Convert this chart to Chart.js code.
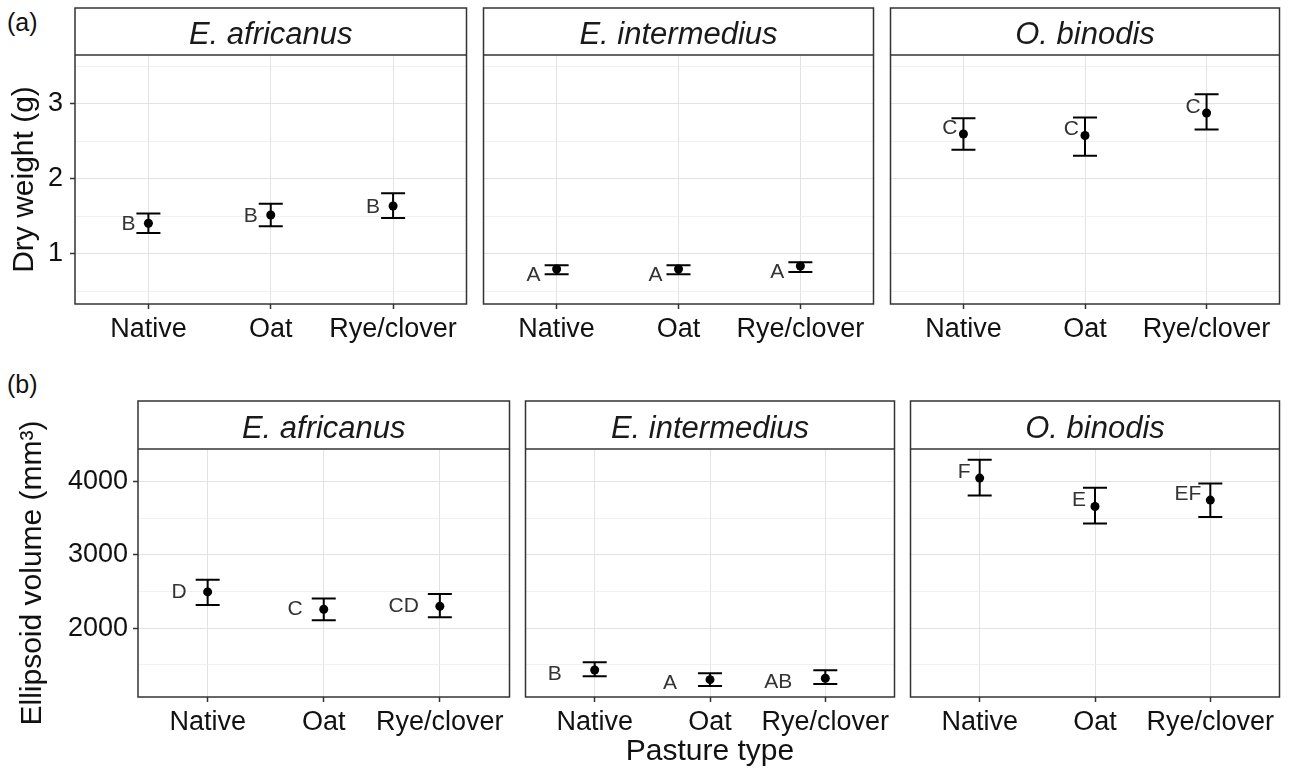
<!DOCTYPE html>
<html>
<head>
<meta charset="utf-8">
<title>Dry weight and ellipsoid volume by pasture type</title>
<script src="https://cdn.jsdelivr.net/npm/chart.js@4.4.1/dist/chart.umd.min.js"></script>
<style>
  html, body { margin: 0; padding: 0; background: #fff; }
  #figure { position: relative; width: 1290px; height: 773px; overflow: hidden; font-family: 'Liberation Sans', Arial, sans-serif; }
  #figure canvas { position: absolute; }
  .panel-tag { position: absolute; font-size: 25px; line-height: 1; color: #111; }
</style>
</head>
<body>
<div id="figure">
  <div class="panel-tag" style="left:7px; top:10px;">(a)</div>
  <div class="panel-tag" style="left:7px; top:372px;">(b)</div>
</div>
<script>
const pastureTypes = ['Native', 'Oat', 'Rye/clover'];
const species = ['E. africanus', 'E. intermedius', 'O. binodis'];

// (a) dry weight (g) - one row per species, one value per pasture type
const dryWeightMean = [[1.41, 1.52, 1.64], [0.80, 0.80, 0.84], [2.60, 2.58, 2.88]];
const dryWeightLow = [[1.28, 1.37, 1.48], [0.73, 0.73, 0.76], [2.39, 2.31, 2.66]];
const dryWeightHigh = [[1.54, 1.67, 1.81], [0.85, 0.85, 0.89], [2.81, 2.82, 3.13]];
const dryWeightLetters = [['B', 'B', 'B'], ['A', 'A', 'A'], ['C', 'C', 'C']];
const dryWeightTicks = [1, 2, 3];

// (b) ellipsoid volume (mm3)
const volumeMean = [[2495, 2259, 2300], [1431, 1299, 1318], [4046, 3659, 3746]];
const volumeLow = [[2318, 2109, 2150], [1345, 1213, 1240], [3809, 3427, 3514]];
const volumeHigh = [[2659, 2404, 2468], [1536, 1386, 1427], [4296, 3914, 3973]];
const volumeLetters = [['D', 'C', 'CD'], ['B', 'A', 'AB'], ['F', 'E', 'EF']];
const volumeTicks = [2000, 3000, 4000];

const FONT = "'Liberation Sans', Arial, sans-serif";
const INK = '#111';
const FRAME = '#333';
const GRID_MAJOR = '#e3e3e3';
const GRID_MINOR = '#ececec';

// page layout of the two rows of facets (pixels)
const rows = [
  {
    mean: dryWeightMean, low: dryWeightLow, high: dryWeightHigh, letters: dryWeightLetters,
    ticks: dryWeightTicks, yMin: 0.333, yMax: 3.653, yTitle: 'Dry weight (g)', titlePad: 7, yTickPad: 7,
    stripTop: 8, plotTop: 55, plotBottom: 304, canvasBottom: 348,
    panels: [[75, 469], [481, 876], [888, 1282]],
    letterShift: [[13, 1], [16, 6], [6, -6]]
  },
  {
    mean: volumeMean, low: volumeLow, high: volumeHigh, letters: volumeLetters,
    ticks: volumeTicks, yMin: 1063, yMax: 4442, yTitle: 'Ellipsoid volume (mm³)', titlePad: 15, yTickPad: 5,
    stripTop: 401, plotTop: 449, plotBottom: 697, canvasBottom: 773, xTitle: 'Pasture type',
    panels: [[138, 512], [523, 897], [908, 1282]],
    letterShift: [[21, 0], [33, 4], [9, -6]]
  }
];

// strip, panel border, error bars and letters
const facetFrame = {
  id: 'facetFrame',
  afterDatasetsDraw(chart, args, opts) {
    const ctx = chart.ctx;
    const x = chart.scales.x;
    const y = chart.scales.y;
    const ds = chart.data.datasets[0];
    ctx.save();
    ctx.strokeStyle = '#000';
    ctx.lineWidth = 2;
    ds.data.forEach((pt, i) => {
      const px = x.getPixelForValue(pt.x);
      const top = y.getPixelForValue(ds.high[i]);
      const bottom = y.getPixelForValue(ds.low[i]);
      ctx.beginPath();
      ctx.moveTo(px, top); ctx.lineTo(px, bottom);
      ctx.moveTo(px - 12, top); ctx.lineTo(px + 12, top);
      ctx.moveTo(px - 12, bottom); ctx.lineTo(px + 12, bottom);
      ctx.stroke();
    });
    ctx.fillStyle = '#333';
    ctx.font = '21px ' + FONT;
    ctx.textAlign = 'right';
    ctx.textBaseline = 'middle';
    ds.data.forEach((pt, i) => {
      const px = x.getPixelForValue(pt.x);
      const py = y.getPixelForValue(pt.y);
      ctx.fillText(ds.letters[i], px - opts.shift[0], py + opts.shift[1]);
    });
    ctx.restore();
  },
  afterDraw(chart, args, opts) {
    const ctx = chart.ctx;
    const area = chart.chartArea;
    const stripTop = opts.stripTop;
    ctx.save();
    ctx.fillStyle = '#fff';
    ctx.fillRect(area.left, stripTop, area.right - area.left, area.top - stripTop);
    ctx.strokeStyle = FRAME;
    ctx.lineWidth = 1.5;
    ctx.strokeRect(area.left, stripTop, area.right - area.left, area.bottom - stripTop);
    ctx.beginPath();
    ctx.moveTo(area.left, area.top);
    ctx.lineTo(area.right, area.top);
    ctx.stroke();
    ctx.fillStyle = '#1a1a1a';
    ctx.font = 'italic 31px ' + FONT;
    ctx.textAlign = 'center';
    ctx.textBaseline = 'middle';
    ctx.fillText(opts.title, (area.left + area.right) / 2, (stripTop + area.top) / 2 + 4);
    ctx.restore();
  }
};

function gridValues(row) {
  const step = row.ticks[1] - row.ticks[0];
  const values = [];
  row.ticks.forEach(t => values.push(t - step / 2, t));
  values.push(row.ticks[row.ticks.length - 1] + step / 2);
  return values.filter(v => v >= row.yMin && v <= row.yMax);
}

function makeFacet(figure, row, col) {
  const [plotLeft, plotRight] = row.panels[col];
  const first = col === 0;
  const canvasLeft = first ? 0 : plotLeft - 2;
  const canvasTop = row.stripTop - 2;
  const width = plotRight + 2 - canvasLeft;
  const height = row.canvasBottom - canvasTop;

  const canvas = document.createElement('canvas');
  canvas.width = width;
  canvas.height = height;
  canvas.style.left = canvasLeft + 'px';
  canvas.style.top = canvasTop + 'px';
  canvas.style.width = width + 'px';
  canvas.style.height = height + 'px';
  figure.appendChild(canvas);

  const isMajor = v => row.ticks.includes(v);

  return new Chart(canvas, {
    type: 'scatter',
    data: {
      datasets: [{
        data: row.mean[col].map((v, i) => ({ x: i + 1, y: v })),
        low: row.low[col],
        high: row.high[col],
        letters: row.letters[col],
        backgroundColor: '#000',
        borderWidth: 0,
        pointRadius: 4.5,
        pointHoverRadius: 4.5
      }]
    },
    options: {
      responsive: false,
      animation: false,
      devicePixelRatio: 1,
      events: [],
      layout: { padding: { top: row.plotTop - canvasTop, left: first ? 0 : 2, right: 2, bottom: 0 } },
      plugins: {
        legend: { display: false },
        tooltip: { enabled: false },
        facetFrame: { title: species[col], stripTop: row.stripTop - canvasTop, shift: row.letterShift[col] }
      },
      scales: {
        x: {
          type: 'linear',
          min: 0.4,
          max: 3.6,
          afterBuildTicks: s => { s.ticks = pastureTypes.map((_, i) => ({ value: i + 1 })); },
          afterFit: s => { s.height = row.canvasBottom - row.plotBottom; },
          border: { display: false },
          grid: { color: GRID_MAJOR, lineWidth: 1, tickColor: FRAME, tickLength: 5, tickWidth: 1.5 },
          ticks: {
            callback: v => pastureTypes[v - 1],
            font: { size: 27, family: FONT },
            color: INK,
            padding: 4,
            autoSkip: false,
            maxRotation: 0,
            minRotation: 0
          },
          title: {
            display: !!row.xTitle && col === 1,
            text: row.xTitle || '',
            font: { size: 30, family: FONT },
            color: INK,
            padding: { top: 0, bottom: 3 }
          }
        },
        y: {
          min: row.yMin,
          max: row.yMax,
          afterBuildTicks: s => { s.ticks = gridValues(row).map(v => ({ value: v })); },
          afterFit: s => { s.width = first ? plotLeft : 0; },
          border: { display: false },
          grid: {
            color: c => isMajor(c.tick.value) ? GRID_MAJOR : GRID_MINOR,
            lineWidth: c => isMajor(c.tick.value) ? 1 : 0.8,
            tickColor: c => isMajor(c.tick.value) ? FRAME : 'rgba(0,0,0,0)',
            tickLength: 5,
            tickWidth: 1.5,
            drawTicks: first
          },
          ticks: {
            display: first,
            callback: v => isMajor(v) ? String(v) : '',
            font: { size: 27, family: FONT },
            color: INK,
            padding: row.yTickPad
          },
          title: {
            display: first,
            text: row.yTitle,
            font: { size: 30, family: FONT },
            color: INK,
            padding: { top: row.titlePad, bottom: 0 }
          }
        }
      }
    },
    plugins: [facetFrame]
  });
}

document.addEventListener('DOMContentLoaded', function () {
  const figure = document.getElementById('figure');
  rows.forEach(row => {
    row.panels.forEach((_, col) => makeFacet(figure, row, col));
  });
});
</script>
</body>
</html>
